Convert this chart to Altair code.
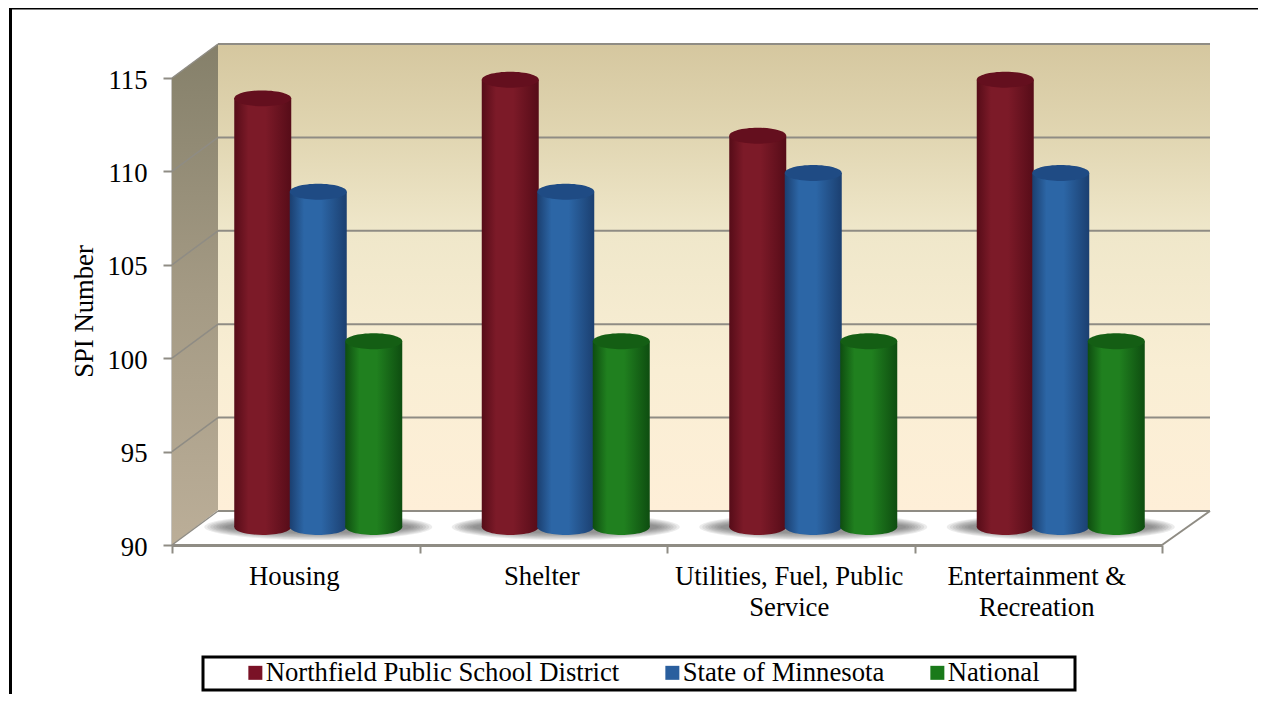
import altair as alt
import pandas as pd

categories = ["Housing", "Shelter", "Utilities, Fuel, Public Service", "Entertainment & Recreation"]
series = ["Northfield Public School District", "State of Minnesota", "National"]
northfield = [113, 114, 111, 114]
minnesota = [108, 108, 109, 109]
national = [100, 100, 100, 100]
y_ticks = [90, 95, 100, 105, 110, 115]

series_values = [northfield, minnesota, national]
flat = ["#7a1226", "#2a5f9e", "#1a7a1a"]
edge = ["#560c18", "#1b3f70", "#0e4d10"]
mid = ["#7c1a28", "#2c66a6", "#20801f"]
cap = ["#640f1e", "#1f4b84", "#145e14"]

rows = [{"category": c, "series": s, "value": v, "base": 90}
        for s, vals in zip(series, series_values) for c, v in zip(categories, vals)]
df = pd.DataFrame(rows)
cat_df = pd.DataFrame({"category": categories})
tick_df = pd.DataFrame({"v": y_ticks})
one = alt.Data(values=[{"a": 1}])

FONT = "Liberation Serif"
FS = 26.7
W, H = 990, 467
DX, DY = 46, -34
BX, BY = 22.5, -17
GRID = "#8f8c84"

xscale = alt.Scale(domain=categories, paddingInner=0, paddingOuter=0)
yscale = alt.Scale(domain=[90, 115], nice=False, zero=False)
offs = alt.Scale(domain=series, paddingInner=0, paddingOuter=0, range=[63, 229.5])

x_axis = alt.Axis(
    title=None, labelFont=FONT, labelFontSize=FS, labelColor="#000", labelAngle=0, labelOffset=-2,
    labelLimit=0, labelOverlap=False, labelPadding=10, labelLineHeight=31, labelBaseline="top",
    labelExpr="split(replace(replace(datum.label,'Public Service','Public|Service'),'& Recreation','&|Recreation'),'|')",
    tickBand="extent", tickSize=8, tickWidth=2, tickColor=GRID,
    domainColor=GRID, domainWidth=3)
y_axis = alt.Axis(
    title="SPI Number", titleFont=FONT, titleFontSize=FS, titleFontWeight="normal", titleColor="#000",
    titleX=-74, titleY=233, values=y_ticks, labelFont=FONT, labelFontSize=FS, labelColor="#000",
    labelOffset=2, labelPadding=16, tickSize=9, tickWidth=2, tickColor=GRID, domainColor=GRID, domainWidth=2,
    grid=False)

X = alt.X("category:N", scale=xscale, axis=x_axis, sort=None)
XO = alt.XOffset("series:N", scale=offs, sort=None)
Y = alt.Y("value:Q", scale=yscale, axis=y_axis)


def lin(stops, vertical=False):
    c = dict(x1=0, x2=0, y1=0, y2=1) if vertical else dict(x1=0, x2=1, y1=0, y2=0)
    return alt.Gradient(gradient="linear", stops=[alt.GradientStop(offset=o, color=k) for o, k in stops], **c)


def fixed(px, py):
    return dict(x=alt.value(px), y=alt.value(py))


wall = alt.Chart(one).mark_rect(
    fill=lin([(0, "#d5c79f"), (0.2, "#e1d6b2"), (0.4, "#efe7ca"), (0.7, "#f9eed4"), (1, "#feefd8")], True)
).encode(x=alt.value(DX), x2=alt.value(W + 48), y=alt.value(DY), y2=alt.value(432))

k = 1 / 250.5
side_path = f"M{-23*k},{-216.5*k} L{23*k},-1 L{23*k},{215.5*k} L{-23*k},1 Z"
side = alt.Chart(one).mark_point(
    shape=side_path, size=501 ** 2, filled=True, opacity=1, strokeWidth=0,
    fill=lin([(0, "#85806a"), (0.5, "#a49a84"), (1, "#bbae98")], True)
).encode(**fixed(23, 216.5))

YV = alt.Y("v:Q", scale=yscale, axis=y_axis)
back_grid = alt.Chart(tick_df).mark_rule(color=GRID, strokeWidth=2, yOffset=DY).encode(
    x=alt.value(DX), x2=alt.value(W + 48), y=YV)
diag = alt.Chart(tick_df).mark_rule(color=GRID, strokeWidth=1.5, y2Offset=DY).encode(
    x=alt.value(0), x2=alt.value(DX), y=YV, y2=alt.Y2("v:Q"))
diag_r = alt.Chart(tick_df).transform_filter("datum.v == 90").mark_rule(color=GRID, strokeWidth=2, y2Offset=DY).encode(
    x=alt.value(W), x2=alt.value(W + 48), y=YV, y2=alt.Y2("v:Q"))

ELL = "M-1,0 A1,{r} 0 1 1 1,0 A1,{r} 0 1 1 -1,0 Z"
# soft floor shadow: concentric translucent ellipses (width, height) in pixels
shadow_w = [228, 222, 216, 210, 204, 198, 192, 186]
shadow_h = [26, 24, 22, 20, 18, 16, 14, 12]
shadows = [
    alt.Chart(cat_df).mark_point(
        shape=ELL.format(r=round(sh / sw, 4)), size=sw ** 2, filled=True, opacity=0.1, strokeWidth=0,
        xOffset=BX, fill="#444444"
    ).encode(x=X, y=alt.value(449))
    for sw, sh in zip(shadow_w, shadow_h)
]

legend_bars = alt.Chart(df).mark_bar(size=50, yOffset=BY, y2Offset=BY - 1).encode(
    x=X, xOffset=XO, y=Y, y2=alt.Y2("base:Q"),
    color=alt.Color("series:N", sort=None, scale=alt.Scale(domain=series, range=flat), legend=alt.Legend(
        title=None, orient="none", legendX=70, legendY=581, direction="horizontal", symbolType="square",
        symbolSize=196, symbolStrokeWidth=0, symbolOpacity=1, labelFont=FONT, labelFontSize=FS, labelColor="#000",
        labelOffset={"expr": "-3"}, columnPadding=39, padding=0, labelLimit=0)))

bars = []
for i, s in enumerate(series):
    d = df[df["series"] == s]
    body = lin([(0, edge[i]), (0.25, mid[i]), (0.55, mid[i]), (1, edge[i])])
    bottom = alt.Chart(d).mark_point(
        shape=ELL.format(r=0.28), size=57 ** 2, filled=True, opacity=1, strokeWidth=0, fill=body,
        yOffset=BY - 1).encode(x=X, xOffset=XO, y=alt.Y("base:Q", scale=yscale, axis=y_axis))
    cyl = alt.Chart(d).mark_bar(size=57, fill=body, yOffset=BY, y2Offset=BY - 1).encode(
        x=X, xOffset=XO, y=Y, y2=alt.Y2("base:Q"))
    top = alt.Chart(d).mark_point(
        shape=ELL.format(r=0.28), size=57 ** 2, filled=True, opacity=1, strokeWidth=0, fill=cap[i],
        yOffset=BY).encode(x=X, xOffset=XO, y=Y)
    bars += [bottom, cyl, top]

legend_box = alt.Chart(one).mark_rect(fill="#ffffff", stroke="#000", strokeWidth=3).encode(
    x=alt.value(31), x2=alt.value(903), y=alt.value(579), y2=alt.value(612))

frame_left = alt.Chart(one).mark_rule(color="#000", strokeWidth=3).encode(
    x=alt.value(-161.5), y=alt.value(-70), y2=alt.value(616))
frame_top = alt.Chart(one).mark_rule(color="#000", strokeWidth=3).encode(
    x=alt.value(-163), x2=alt.value(1086), y=alt.value(-70))

chart = alt.layer(
    wall, side, back_grid, diag, diag_r, *shadows, legend_bars, *bars, legend_box, frame_left, frame_top
).properties(
    width=W, height=H, autosize="none",
    padding={"left": 164, "top": 70, "right": 96, "bottom": 149}
).configure_view(stroke=None)

chart.save("out.html", embed_options={"renderer": "svg", "actions": False})
